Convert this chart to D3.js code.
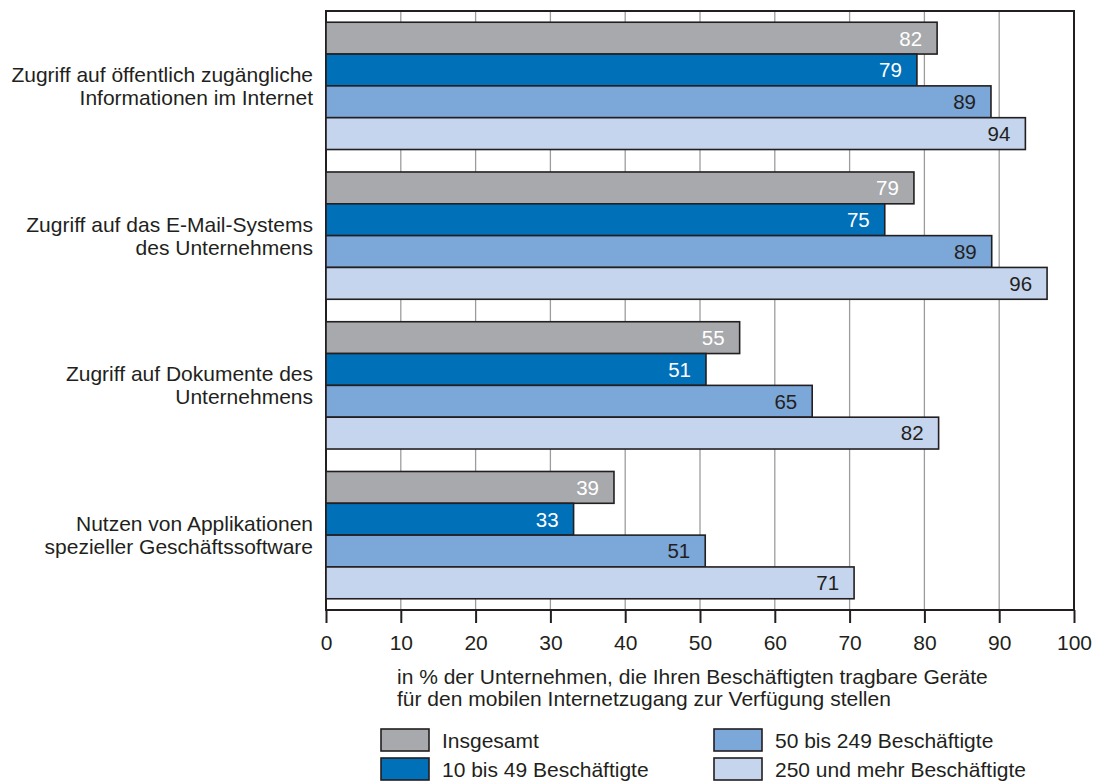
<!DOCTYPE html>
<html>
<head>
<meta charset="utf-8">
<script src="https://cdn.jsdelivr.net/npm/d3@7"></script>
<style>
  body { margin: 0; background: #fff; }
  svg { display: block; font-family: "Liberation Sans", Arial, Helvetica, sans-serif; }
</style>
</head>
<body>
<div class="canvas"></div>
<script>
// data
const categories = [
  ['Zugriff auf öffentlich zugängliche', 'Informationen im Internet'],
  ['Zugriff auf das E-Mail-Systems', 'des Unternehmens'],
  ['Zugriff auf Dokumente des', 'Unternehmens'],
  ['Nutzen von Applikationen', 'spezieller Geschäftssoftware']
];
const seriesNames = ['Insgesamt', '10 bis 49 Beschäftigte', '50 bis 249 Beschäftigte', '250 und mehr Beschäftigte'];
const insgesamt = [81.7, 78.6, 55.3, 38.5];
const klein = [79.0, 74.7, 50.8, 33.1];
const mittel = [88.9, 89.0, 65.0, 50.7];
const gross = [93.5, 96.4, 81.9, 70.6];
const tickValues = [0, 10, 20, 30, 40, 50, 60, 70, 80, 90, 100];
const axisTitle = ['in % der Unternehmen, die Ihren Beschäftigten tragbare Geräte', 'für den mobilen Internetzugang zur Verfügung stellen'];

const seriesValues = [insgesamt, klein, mittel, gross];
const colors = ['#a7a9ac', '#0070b8', '#7ba7d9', '#c5d5ee'];
const labelColors = ['#fff', '#fff', '#231f20', '#231f20'];

const dimension = { width: 1099, height: 781 };
const plot = { left: 326, right: 1074, top: 11, bottom: 610 };
const fontSize = 21;

const svg = d3
  .select('.canvas')
  .append('svg')
  .attr('width', dimension.width)
  .attr('height', dimension.height);

// scales
const x = d3.scaleLinear().domain([0, 100]).range([plot.left, plot.right]);

const y = d3
  .scaleBand()
  .domain(d3.range(categories.length))
  .range([plot.top, plot.bottom])
  .paddingInner(0.15)
  .paddingOuter(0.075);

const ySub = d3
  .scaleBand()
  .domain(d3.range(seriesNames.length))
  .range([0, y.bandwidth()]);

// grid lines
svg
  .append('g')
  .selectAll('line')
  .data(tickValues.slice(1, -1))
  .enter()
  .append('line')
  .attr('x1', d => x(d))
  .attr('x2', d => x(d))
  .attr('y1', plot.top)
  .attr('y2', plot.bottom)
  .attr('stroke', '#9d9d9d')
  .attr('stroke-width', 1.3);

// frame
svg
  .append('rect')
  .attr('x', plot.left)
  .attr('y', plot.top)
  .attr('width', plot.right - plot.left)
  .attr('height', plot.bottom - plot.top)
  .attr('fill', 'none')
  .attr('stroke', '#231f20')
  .attr('stroke-width', 2);

// bars
const groups = svg
  .append('g')
  .selectAll('g')
  .data(categories)
  .enter()
  .append('g')
  .attr('transform', (d, i) => `translate(0, ${y(i)})`);

groups.each(function(d, ci) {
  const g = d3.select(this);
  const rows = seriesValues.map((vals, si) => ({ si, v: vals[ci] }));

  g.selectAll('rect')
    .data(rows)
    .enter()
    .append('rect')
    .attr('x', x(0))
    .attr('y', r => ySub(r.si))
    .attr('width', r => x(r.v) - x(0))
    .attr('height', ySub.bandwidth())
    .attr('fill', r => colors[r.si])
    .attr('stroke', '#231f20')
    .attr('stroke-width', 1.6);

  g.selectAll('text.value')
    .data(rows)
    .enter()
    .append('text')
    .attr('class', 'value')
    .attr('x', r => x(r.v) - 15)
    .attr('y', r => ySub(r.si) + ySub.bandwidth() / 2)
    .attr('dy', '0.36em')
    .attr('text-anchor', 'end')
    .attr('font-size', 20.5)
    .attr('fill', r => labelColors[r.si])
    .text(r => Math.round(r.v));
});

// category labels
groups.each(function(lines, ci) {
  const t = d3
    .select(this)
    .append('text')
    .attr('text-anchor', 'end')
    .attr('font-size', fontSize)
    .attr('fill', '#231f20');
  lines.forEach((line, li) => {
    t.append('tspan')
      .attr('x', 313)
      .attr('y', y.bandwidth() / 2 + (li - (lines.length - 1) / 2) * 23)
      .attr('dy', '0.36em')
      .text(line);
  });
});

// x axis
const xAxis = d3
  .axisBottom(x)
  .tickValues(tickValues)
  .tickSize(13)
  .tickSizeOuter(0)
  .tickPadding(12);

const axisGroup = svg
  .append('g')
  .attr('transform', `translate(0, ${plot.bottom})`)
  .call(xAxis);

axisGroup.select('.domain').remove();
axisGroup.selectAll('line').attr('stroke', '#231f20').attr('stroke-width', 2);
axisGroup
  .selectAll('text')
  .attr('font-size', fontSize)
  .attr('font-family', '"Liberation Sans", Arial, sans-serif')
  .attr('fill', '#231f20');

// axis title
svg
  .append('g')
  .selectAll('text')
  .data(axisTitle)
  .enter()
  .append('text')
  .attr('x', 397)
  .attr('y', (d, i) => 676 + i * 22)
  .attr('dy', '0.36em')
  .attr('font-size', fontSize)
  .attr('fill', '#231f20')
  .text(d => d);

// legend
const legendPos = [
  { x: 381, y: 729 },
  { x: 381, y: 758 },
  { x: 714, y: 729 },
  { x: 714, y: 758 }
];

const legend = svg
  .append('g')
  .selectAll('g')
  .data(seriesNames)
  .enter()
  .append('g')
  .attr('transform', (d, i) => `translate(${legendPos[i].x}, ${legendPos[i].y})`);

legend
  .append('rect')
  .attr('width', 48)
  .attr('height', 22)
  .attr('fill', (d, i) => colors[i])
  .attr('stroke', '#231f20')
  .attr('stroke-width', 1.6);

legend
  .append('text')
  .attr('x', 61)
  .attr('y', 11)
  .attr('dy', '0.36em')
  .attr('font-size', fontSize)
  .attr('fill', '#231f20')
  .text(d => d);
</script>
</body>
</html>
